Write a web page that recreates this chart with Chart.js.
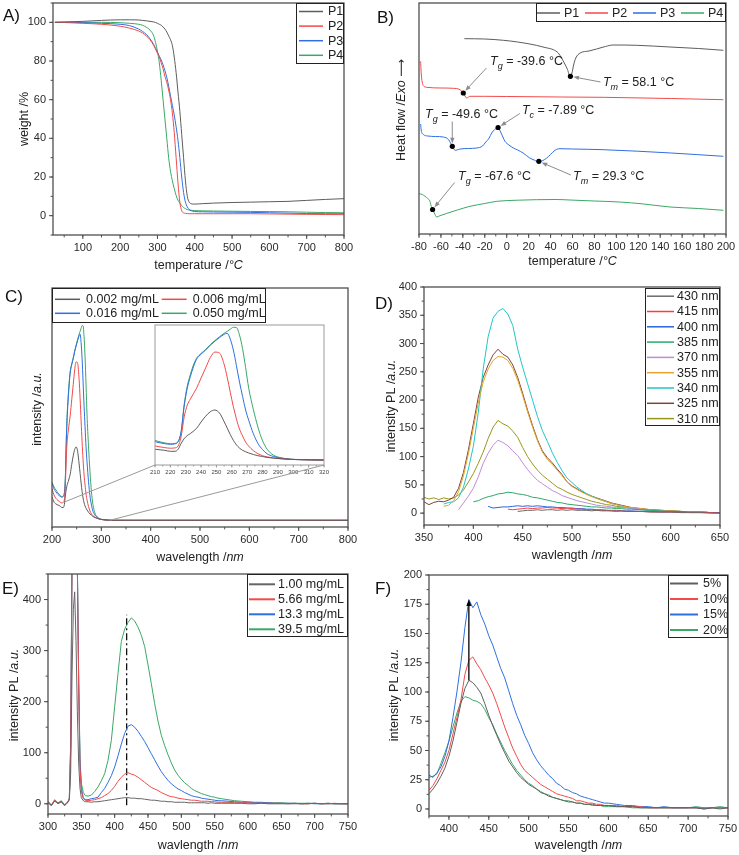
<!DOCTYPE html>
<html>
<head>
<meta charset="utf-8">
<script src="https://cdn.jsdelivr.net/npm/chart.js@4.4.0/dist/chart.umd.min.js"></script>
<style>
  body { margin: 0; background: #fff; }
  #wrap { position: relative; width: 739px; height: 855px; overflow: hidden; }
  canvas { position: absolute; }
</style>
</head>
<body>
<div id="wrap">
  <canvas id="tga" style="left:0;top:0" width="370" height="280"></canvas>
  <canvas id="dsc" style="left:370px;top:0" width="369" height="280"></canvas>
  <canvas id="uv" style="left:0;top:280px" width="370" height="290"></canvas>
  <canvas id="uvin" style="left:0;top:280px" width="370" height="290"></canvas>
  <canvas id="pl" style="left:370px;top:280px" width="369" height="290"></canvas>
  <canvas id="conc" style="left:0;top:560px" width="370" height="295"></canvas>
  <canvas id="pct" style="left:370px;top:560px" width="369" height="295"></canvas>
</div>
<script>
// ---- A) TGA ----
const tgaTemp = [25, 50, 100, 150, 200, 225, 250, 260, 270, 280, 290, 295, 300, 305, 310, 315, 320, 325, 330, 335, 340, 345, 350, 355, 360, 365, 370, 375, 380, 385, 390, 395, 400, 420, 450, 500, 550, 600, 650, 700, 750, 800];
const tgaP1 = [100, 100.2, 100.5, 101, 101.3, 101.3, 101.2, 101, 100.8, 100.5, 100.2, 99.9, 99.5, 99, 98.5, 97.6, 96.5, 95, 93, 91, 88, 82, 74, 64, 54, 42, 30, 18, 10, 7, 6.2, 6, 6, 6.2, 6.5, 6.8, 7, 7.2, 7.4, 7.9, 8.4, 8.8];
const tgaP2 = [100, 99.9, 99.5, 99, 98, 97, 95.5, 94.5, 93, 91, 88, 86, 84, 82, 79, 76, 72, 69, 65, 60, 53, 43, 30, 17, 7, 2.5, 1.5, 1.2, 1.1, 1, 1, 1, 1, 1, 1, 1, 1, 0.9, 0.8, 0.7, 0.6, 0.5];
const tgaP3 = [100, 100, 99.8, 99.5, 99, 98.3, 96.5, 95.3, 93.8, 91.5, 88.5, 86.5, 84.5, 82.5, 80.5, 78, 75, 71.5, 67, 62, 57, 52, 46, 39, 30, 20, 12, 7, 4.5, 3.2, 2.6, 2.3, 2.1, 2, 1.9, 1.8, 1.7, 1.5, 1.3, 1.1, 1, 1];
const tgaP4 = [100, 100, 100, 100, 99.8, 99.5, 99, 98.5, 97.5, 96, 93, 89.5, 85, 79, 70, 60, 50, 40, 30, 23, 18, 14, 10.5, 8, 6.5, 5.2, 4.2, 3.6, 3.1, 2.9, 2.8, 2.7, 2.6, 2.5, 2.4, 2.3, 2.2, 2.1, 2, 1.8, 1.6, 1.5];
const tgaTempTicks = [100, 200, 300, 400, 500, 600, 700, 800];
const tgaWeightTicks = [0, 20, 40, 60, 80, 100];

// ---- B) DSC (heat flow in arbitrary units) ----
const dscP1T = [-38.6, -20, -3, 10, 27, 35, 42.5, 47, 50, 53, 55.5, 57.7, 59.5, 61, 63, 67, 75, 82, 90, 97, 118.5, 149, 175, 197.6];
const dscP1H = [195.3, 195, 193.7, 192, 188.7, 186.5, 184.3, 181, 176, 170, 164.3, 157.7, 161, 169, 176, 181, 183, 185, 187.5, 189, 188.7, 187, 185.5, 183.7];
const dscP2T = [-78.5, -78.2, -77.5, -76, -73, -60, -48.7, -42.6, -39.6, -37.5, -36.5, -33.5, -20, 0, 50, 88, 150, 197.6];
const dscP2H = [172.7, 165, 155, 148.3, 146.7, 146, 145.7, 144.3, 141, 137, 136, 137.7, 137.7, 137.5, 137, 136.7, 135.5, 134.3];
const dscP3T = [-78.5, -78, -76, -72, -65, -57.8, -53, -49.6, -47, -44, -42.6, -35, -27.4, -22, -19.8, -16, -13.7, -11, -9, -7.9, -6, -3.5, -1.6, 2, 6, 10, 15, 21, 25, 27.3, 30, 33, 36.5, 40, 44, 46.5, 48.6, 60, 88, 150, 197.6];
const dscP3H = [110, 104, 99.5, 98, 97.5, 97, 94.3, 87.7, 83.7, 84.5, 85, 85.5, 86, 88, 91, 96, 101, 104.5, 106, 106.5, 103, 97, 92.7, 89, 86, 84, 81, 76, 74, 72.8, 72.7, 73.5, 76, 79.5, 83.7, 85, 85.3, 85, 84.3, 81, 77.7];
const dscP4T = [-80, -77, -74.5, -72, -70, -68.4, -66, -64, -61, -55, -45, -33.5, -20, -9, 10, 27, 45, 57.7, 80, 103, 125, 149, 175, 197.6];
const dscP4H = [40.3, 39.5, 37.7, 35.5, 32.7, 26, 21, 17, 18.3, 20.5, 24, 27.7, 30.5, 32.7, 33.8, 34.3, 34.5, 34, 33, 32, 30, 27, 25.5, 23.7];
const dscMarkT = [-39.6, 58.1, -49.6, -7.89, 29.3, -67.6];
const dscMarkH = [141, 157.7, 87.7, 106.5, 72.7, 24.5];
const dscMarkSub = ['g', 'm', 'g', 'c', 'm', 'g'];
const dscMarkText = [' = -39.6 °C', ' = 58.1 °C', ' = -49.6 °C', ' = -7.89 °C', ' = 29.3 °C', ' = -67.6 °C'];
const dscTempTicks = [-80, -60, -40, -20, 0, 20, 40, 60, 80, 100, 120, 140, 160, 180, 200];

// ---- C) UV-Vis ----
const uvNm = [200, 204, 208, 212, 216, 220, 223, 225, 227, 229, 231, 233, 235, 237, 240, 243, 246, 249, 252, 255, 257, 259, 261, 263, 265, 267, 269, 271, 274, 277, 280, 283, 287, 292, 298, 305, 312, 320, 350, 400, 500, 600, 700, 800];
const uv002 = [30, 25, 23, 22, 21, 19.5, 19.5, 22.3, 31, 38, 42.5, 45.5, 49, 53, 62.5, 71, 77.5, 80, 75.5, 63, 53.5, 44, 35.5, 29, 24.2, 21, 18.8, 17, 14.8, 13, 11.8, 10.5, 9.5, 8.5, 7.7, 7.2, 6.9, 6.7, 6.7, 6.7, 6.7, 6.7, 6.7, 6.7];
const uv006 = [38, 32, 28.5, 26.5, 25, 24, 24.5, 27.2, 41, 70, 87, 96, 104, 111.8, 127, 142, 157, 165, 163.5, 147, 128, 106, 85, 67, 52, 42, 33, 27, 20.5, 16, 13, 11.3, 9.8, 8.6, 7.7, 7.2, 6.9, 6.7, 6.7, 6.7, 6.7, 6.7, 6.7, 6.7];
const uv016 = [44, 38, 35, 32.5, 30.8, 29.8, 30.5, 33.6, 48, 86, 112, 129, 143, 154.4, 162, 168, 175, 181, 186.3, 191, 192.5, 184, 168, 145, 121, 100, 80, 65, 45.5, 31, 22, 15.8, 12, 9.5, 7.7, 7.2, 6.9, 6.7, 6.7, 6.7, 6.7, 6.7, 6.7, 6.7];
const uv050 = [45, 40, 37, 34, 32, 30.5, 31, 33.6, 48, 88, 115, 132, 146, 155.8, 163, 169, 176, 182, 187.5, 192.5, 195.5, 198.5, 201.3, 201, 190, 170, 142, 112, 81, 55, 35, 22.5, 14, 10, 8, 7.4, 7, 6.7, 6.7, 6.7, 6.7, 6.7, 6.7, 6.7];
const uvNmTicks = [200, 300, 400, 500, 600, 700, 800];
const uvInsetTicks = [210, 220, 230, 240, 250, 260, 270, 280, 290, 300, 310, 320];
const uvLinkNm = [225.7, 317];
const uvLinkAbs = [25, 6.7];

// ---- D) PL vs excitation wavelength ----
const plNm = [350, 355, 360, 365, 370, 375, 380, 385, 390, 395, 400, 405, 410, 415, 420, 425, 430, 435, 440, 445, 450, 455, 460, 465, 470, 475, 480, 485, 490, 495, 500, 505, 510, 515, 520, 525, 530, 535, 540, 545, 550, 555, 560, 570, 580, 590, 600, 610, 620, 630, 640, 650];
const pl430 = [null, null, null, null, null, null, null, null, null, null, null, null, null, null, null, null, null, null, null, 3, 4, 5, 5, 6, 5, 6, 6, 5, 6, 5, 6, 5, 5, 5, 4, 5, 4, 4, 4, 3, 4, 3, 3, 3, 2, 2, 2, 1, 1, 1, 0, 0];
const pl415 = [null, null, null, null, null, null, null, null, null, null, null, null, null, null, null, null, null, 7, 6, 7, 8, 9, 8, 9, 9, 10, 9, 9, 8, 9, 8, 7, 7, 6, 6, 5, 5, 5, 4, 4, 4, 3, 3, 3, 2, 2, 2, 1, 1, 1, 1, 0];
const pl400 = [null, null, null, null, null, null, null, null, null, null, null, null, null, 12, 9, 10, 11, 11, 12, 13, 12, 13, 12, 13, 12, 11, 11, 10, 10, 9, 9, 8, 8, 7, 7, 6, 6, 5, 5, 5, 4, 4, 4, 3, 3, 2, 2, 2, 1, 1, 1, 1];
const pl385 = [null, null, null, null, null, null, null, null, null, null, 20, 22, 26, 29, 31, 34, 35, 37, 36, 34, 33, 31, 28, 27, 25, 23, 21, 19, 18, 16, 15, 14, 13, 12, 11, 11, 10, 9, 9, 8, 8, 7, 7, 6, 5, 4, 3, 3, 2, 2, 1, 1];
const pl370 = [null, null, null, null, null, null, null, 6, 18, 30, 44, 64, 88, 106, 120, 129, 125, 119, 110, 102, 89, 77, 67, 58, 52, 46, 40, 36, 31, 28, 25, 22, 20, 18, 16, 14, 13, 12, 11, 10, 10, 9, 9, 7, 5, 4, 3, 3, 2, 2, 1, 1];
const pl355 = [null, null, null, null, 12, 14, 22, 38, 66, 105, 150, 195, 232, 255, 270, 277, 276, 270, 256, 235, 208, 179, 152, 128, 108, 95, 86, 76, 66, 55, 47, 42, 37, 33, 29, 26, 23, 20, 17, 15, 13, 11, 10, 8, 6, 5, 4, 3, 2, 2, 1, 1];
const pl340 = [null, null, null, null, 16, 19, 20, 27, 46, 78, 118, 178, 255, 312, 345, 357, 362, 352, 332, 290, 258, 229, 200, 171, 146, 127, 107, 90, 75, 62, 54, 46, 40, 34, 30, 26, 23, 20, 17, 15, 12, 10, 9, 6, 4, 4, 3, 3, 2, 2, 1, 1];
const pl325 = [20, 15, 19, 21, 20, 23, 28, 44, 72, 112, 158, 205, 240, 262, 280, 290, 281, 276, 262, 240, 212, 182, 155, 130, 110, 98, 89, 78, 68, 55, 48, 43, 38, 34, 30, 27, 24, 21, 18, 16, 14, 12, 10, 8, 6, 5, 4, 3, 2, 2, 1, 1];
const pl310 = [28, 25, 27, 24, 27, 25, 27, 32, 41, 55, 70, 88, 108, 132, 152, 164, 158, 154, 145, 134, 116, 100, 87, 76, 67, 60, 53, 46, 42, 37, 33, 30, 27, 24, 21, 19, 17, 15, 14, 12, 11, 10, 9, 7, 6, 5, 4, 3, 2, 2, 1, 1];
const plNmTicks = [350, 400, 450, 500, 550, 600, 650];
const plIntTicks = [0, 50, 100, 150, 200, 250, 300, 350, 400];

// ---- E) PL vs concentration ----
const eNm = [300, 305, 310, 315, 320, 325, 330, 332, 334, 336, 338, 340, 342, 344, 346, 348, 350, 353, 356, 360, 365, 370, 375, 380, 385, 390, 395, 400, 405, 410, 415, 420, 425, 430, 435, 440, 445, 450, 455, 460, 465, 470, 475, 480, 485, 490, 495, 500, 505, 510, 515, 520, 525, 530, 535, 540, 545, 550, 555, 560, 570, 580, 590, 600, 610, 620, 630, 640, 650, 660, 670, 680, 690, 700, 710, 720, 730, 740, 750];
const e100 = [2, -3, 5, 1, 4, -2, 3, 8, 60, 250, 380, 415, 320, 180, 80, 30, 12, 6, 4, 4, 3, 4, 4, 5, 6, 7, 8, 9, 10, 11, 12, 12, 11, 11, 10, 10, 9, 8, 7, 7, 6, 5, 5, 4, 4, 3, 3, 3, 3, 2, 2, 2, 2, 2, 2, 1, 2, 1, 1, 1, 1, 1, 1, 0, 0, 1, 0, 0, 0, 0, 0, 0, 0, 1, 0, 0, 0, 0, 0];
const e566 = [4, -2, 7, 1, 3, -4, 5, 10, 100, 470, 470, 470, 470, 470, 230, 70, 25, 10, 7, 6, 7, 8, 10, 12, 16, 20, 26, 34, 44, 52, 58, 61, 58, 56, 52, 47, 42, 37, 32, 29, 26, 22, 19, 16, 14, 13, 11, 10, 9, 8, 7, 7, 6, 5, 5, 5, 4, 4, 3, 3, 3, 2, 2, 2, 1, 1, 1, 1, 1, 0, 1, 0, 0, 1, 0, 0, 1, 0, 0];
const e133 = [3, -4, 6, 0, 5, -3, 3, 10, 110, 470, 470, 470, 470, 470, 240, 80, 30, 12, 8, 8, 10, 11, 13, 22, 30, 42, 55, 72, 94, 117, 138, 152, 155, 150, 142, 132, 122, 110, 98, 86, 74, 63, 54, 46, 39, 34, 29, 26, 22, 19, 16, 14, 13, 11, 10, 9, 8, 7, 6, 6, 5, 4, 3, 3, 2, 2, 2, 1, 1, 1, 1, 0, 1, 0, 0, 1, 0, 0, 0];
const e395 = [5, -3, 8, 2, 6, -2, 4, 10, 120, 470, 470, 470, 470, 470, 250, 90, 40, 22, 16, 15, 17, 24, 33, 45, 59, 85, 124, 190, 255, 318, 342, 355, 364, 358, 346, 330, 308, 272, 235, 196, 162, 134, 114, 96, 80, 66, 56, 48, 41, 36, 30, 26, 23, 20, 18, 16, 14, 13, 11, 10, 8, 6, 5, 4, 3, 3, 2, 2, 2, 1, 1, 1, 1, 1, 0, 1, 0, 0, 0];
const eGuideNm = [418, 418];
const eGuideInt = [-3, 370];
const eNmTicks = [300, 350, 400, 450, 500, 550, 600, 650, 700, 750];
const eIntTicks = [0, 100, 200, 300, 400];

// ---- F) PL vs percentage ----
const fNm = [375, 380, 385, 390, 395, 400, 405, 410, 415, 420, 425, 430, 435, 440, 445, 450, 455, 460, 465, 470, 475, 480, 485, 490, 495, 500, 505, 510, 515, 520, 525, 530, 535, 540, 545, 550, 555, 560, 565, 570, 575, 580, 585, 590, 595, 600, 610, 620, 630, 640, 650, 660, 670, 680, 690, 700, 710, 720, 730, 740, 750];
const f05 = [13, 17, 22, 28, 35, 45, 58, 74, 90, 103, 110, 108, 104, 99, 90, 80, 71, 63, 55, 48, 41, 36, 31, 27, 24, 21, 19, 17, 14, 13, 11, 10, 9, 8, 7, 6, 6, 5, 5, 4, 4, 4, 3, 3, 3, 3, 2, 2, 2, 1, 1, 1, 1, 1, 1, 1, 1, 0, 1, 0, 1];
const f10 = [16, 20, 26, 33, 40, 50, 64, 78, 93, 115, 127, 130, 124, 119, 112, 106, 99, 90, 80, 70, 61, 52, 45, 38, 33, 30, 27, 24, 21, 19, 17, 15, 13, 12, 11, 10, 9, 7, 7, 6, 5, 5, 4, 4, 3, 3, 3, 2, 2, 2, 1, 1, 1, 1, 1, 1, 1, 1, 1, 1, 1];
const f15 = [29, 27, 31, 36, 45, 58, 78, 100, 125, 155, 179, 172, 177, 166, 158, 148, 140, 130, 120, 112, 101, 90, 80, 72, 63, 56, 48, 42, 37, 33, 29, 26, 22, 20, 17, 16, 14, 13, 11, 10, 9, 8, 7, 6, 5, 5, 4, 3, 3, 2, 2, 1, 2, 1, 1, 1, 1, 0, 1, 1, 1];
const f20 = [27, 28, 30, 39, 48, 58, 70, 82, 92, 96, 95, 93, 92, 90, 85, 78, 72, 64, 57, 50, 44, 38, 33, 29, 25, 22, 20, 17, 15, 13, 12, 10, 9, 8, 7, 7, 6, 5, 5, 4, 4, 3, 3, 3, 2, 2, 2, 2, 1, 1, 1, 1, 1, 1, 1, 1, 2, 1, 1, 2, 1];
const fArrowNm = 425;
const fArrowInt = [110, 179];
const fNmTicks = [400, 450, 500, 550, 600, 650, 700, 750];
const fIntTicks = [0, 25, 50, 75, 100, 125, 150, 175, 200];

// ---- helpers ----
const FONT = '"Liberation Sans", "DejaVu Sans", Arial, sans-serif';
const GRAY = '#5c5c5c', RED = '#f24a4a', BLUE = '#2f6fe0', GREEN = '#3aa866';

function pts(xs, ys) {
  const out = [];
  xs.forEach((x, i) => { if (ys[i] !== null) out.push({x: x, y: ys[i]}); });
  return out;
}

function series(label, xs, ys, color, smooth) {
  return {
    label: label, data: pts(xs, ys), borderColor: color, backgroundColor: color,
    borderWidth: 1, pointRadius: 0, tension: 0,
    cubicInterpolationMode: smooth ? 'monotone' : 'default'
  };
}

function partFont(style, size) {
  const sz = style === 's' ? size * 0.72 : size;
  return (style === 'n' ? '' : 'italic ') + sz.toFixed(1) + 'px ' + FONT;
}

function drawParts(ctx, parts, x, y, size, align, rotate) {
  ctx.save();
  ctx.translate(x, y);
  if (rotate) ctx.rotate(-Math.PI / 2);
  let w = 0;
  parts.forEach(p => { ctx.font = partFont(p[1], size); w += ctx.measureText(p[0]).width; });
  let cx = align === 'center' ? -w / 2 : 0;
  ctx.textBaseline = 'middle';
  ctx.textAlign = 'left';
  ctx.fillStyle = '#222';
  parts.forEach(p => {
    ctx.font = partFont(p[1], size);
    ctx.fillText(p[0], cx, p[1] === 's' ? size * 0.32 : 0);
    cx += ctx.measureText(p[0]).width;
  });
  ctx.restore();
}

function arrow(ctx, x1, y1, x2, y2, color, width, head) {
  const ang = Math.atan2(y2 - y1, x2 - x1);
  ctx.save();
  ctx.strokeStyle = color; ctx.fillStyle = color; ctx.lineWidth = width;
  ctx.beginPath();
  ctx.moveTo(x1, y1);
  ctx.lineTo(x2 - Math.cos(ang) * head * 0.7, y2 - Math.sin(ang) * head * 0.7);
  ctx.stroke();
  ctx.beginPath();
  ctx.moveTo(x2, y2);
  ctx.lineTo(x2 - head * Math.cos(ang - 0.38), y2 - head * Math.sin(ang - 0.38));
  ctx.lineTo(x2 - head * Math.cos(ang + 0.38), y2 - head * Math.sin(ang + 0.38));
  ctx.closePath();
  ctx.fill();
  ctx.restore();
}

function drawFrame(chart, p) {
  const ctx = chart.ctx, a = chart.chartArea, sx = chart.scales.x, sy = chart.scales.y;
  ctx.save();
  ctx.strokeStyle = p.frameColor || '#4f4f4f';
  ctx.lineWidth = p.frameWidth || 1.3;
  ctx.strokeRect(a.left, a.top, a.right - a.left, a.bottom - a.top);
  ctx.lineWidth = 1;
  ctx.beginPath();
  const big = p.tickLen || 4, small = big * 0.6;
  if (p.x.labels) {
    p.x.labels.forEach(v => { const x = sx.getPixelForValue(v); ctx.moveTo(x, a.bottom); ctx.lineTo(x, a.bottom + big); });
    if (p.x.minor) for (let v = Math.ceil(p.x.min / p.x.minor) * p.x.minor; v <= p.x.max + 1e-9; v += p.x.minor) {
      const x = sx.getPixelForValue(v); ctx.moveTo(x, a.bottom); ctx.lineTo(x, a.bottom + small);
    }
  }
  if (p.y.labels) {
    p.y.labels.forEach(v => { const y = sy.getPixelForValue(v); ctx.moveTo(a.left, y); ctx.lineTo(a.left - big, y); });
    if (p.y.minor) for (let v = Math.ceil(p.y.min / p.y.minor) * p.y.minor; v <= p.y.max + 1e-9; v += p.y.minor) {
      const y = sy.getPixelForValue(v); ctx.moveTo(a.left, y); ctx.lineTo(a.left - small, y);
    }
  }
  ctx.stroke();
  ctx.restore();
}

function drawLegend(chart, L) {
  const ctx = chart.ctx;
  const items = chart.data.datasets.filter(d => d.label);
  ctx.save();
  ctx.fillStyle = '#fff';
  ctx.fillRect(L.box[0], L.box[1], L.box[2] - L.box[0], L.box[3] - L.box[1]);
  ctx.strokeStyle = '#222'; ctx.lineWidth = 1;
  ctx.strokeRect(L.box[0] + 0.5, L.box[1] + 0.5, L.box[2] - L.box[0] - 1, L.box[3] - L.box[1] - 1);
  ctx.font = L.size + 'px ' + FONT;
  ctx.textBaseline = 'middle';
  ctx.fillStyle = '#222';
  const cols = L.cols || 1;
  items.forEach((d, i) => {
    const x = L.x0 + (i % cols) * (L.colW || 0);
    const y = L.y0 + Math.floor(i / cols) * (L.rowH || 0);
    ctx.strokeStyle = d.borderColor; ctx.lineWidth = L.lw;
    ctx.beginPath(); ctx.moveTo(x, y); ctx.lineTo(x + L.len, y); ctx.stroke();
    ctx.fillText(d.label, x + L.textOff, y + 0.5);
  });
  ctx.restore();
}

function decor(p) {
  return {
    id: 'decor',
    beforeDraw(chart) {
      if (!p.bg) return;
      const a = chart.chartArea, ctx = chart.ctx;
      ctx.save(); ctx.fillStyle = '#fff';
      ctx.fillRect(a.left, a.top, a.right - a.left, a.bottom - a.top);
      ctx.restore();
    },
    afterDraw(chart) {
      const ctx = chart.ctx, a = chart.chartArea;
      if (p.extraUnder) p.extraUnder(chart);
      drawFrame(chart, p);
      if (p.xTitle) drawParts(ctx, p.xTitle, (a.left + a.right) / 2, p.xTitleY, 12.5, 'center', false);
      if (p.yTitle) drawParts(ctx, p.yTitle, p.yTitleX, p.yTitleCY || (a.top + a.bottom) / 2, 12.5, 'center', true);
      if (p.legend) drawLegend(chart, p.legend);
      if (p.extra) p.extra(chart);
      if (p.tag) {
        ctx.save(); ctx.font = '17px ' + FONT; ctx.fillStyle = '#111'; ctx.textBaseline = 'alphabetic';
        ctx.fillText(p.tag[0], p.tag[1], p.tag[2]); ctx.restore();
      }
    }
  };
}

function axis(ax, fit, size, pad) {
  return {
    type: 'linear', min: ax.min, max: ax.max,
    grid: {display: false, drawTicks: false}, border: {display: false},
    afterFit: fit,
    afterBuildTicks: s => { s.ticks = (ax.labels || []).map(v => ({value: v})); },
    ticks: {display: !!ax.labels, padding: pad, color: ax.color || '#2a2a2a', font: {family: FONT, size: size}, autoSkip: false, maxRotation: 0, minRotation: 0}
  };
}

function makeChart(id, datasets, p) {
  const cv = document.getElementById(id);
  const W = cv.width, H = cv.height, a = p.area;
  const fs = p.tickFont || 11;
  return new Chart(cv, {
    type: 'line',
    data: {datasets: datasets},
    options: {
      responsive: false, animation: false, devicePixelRatio: 1, events: [],
      layout: {padding: {left: p.y.hidden ? a[0] : 0, top: a[1], right: W - a[2], bottom: 0}},
      plugins: {legend: {display: false}, tooltip: {enabled: false}},
      scales: {
        x: axis(p.x, s => { s.height = H - a[3]; s.paddingLeft = 0; s.paddingRight = 0; }, fs, p.xPad || 6.5),
        y: Object.assign(axis(p.y, s => { s.width = p.y.hidden ? 0 : a[0]; s.paddingTop = 0; s.paddingBottom = 0; }, fs, 7), {display: !p.y.hidden})
      }
    },
    plugins: [decor(p)]
  });
}

// ---- A) ----
makeChart('tga', [
  series('P1', tgaTemp, tgaP1, GRAY, true),
  series('P2', tgaTemp, tgaP2, RED, true),
  series('P3', tgaTemp, tgaP3, BLUE, true),
  series('P4', tgaTemp, tgaP4, GREEN, true)
], {
  area: [53, 3, 344, 235],
  x: {min: 20, max: 800, labels: tgaTempTicks, minor: 50},
  y: {min: -10, max: 110, labels: tgaWeightTicks, minor: 10},
  xTitle: [['temperature /', 'n'], ['°C', 'i']], xTitleY: 266,
  yTitle: [['weight /%', 'n']], yTitleX: 25,
  legend: {box: [296, 3, 344, 64], x0: 299, y0: 11.5, rowH: 14.6, len: 24, textOff: 29, size: 12.5, lw: 1.5},
  tag: ['A)', 3, 21]
});

// ---- B) ----
const dscLayout = [
  {text: [-15.2, 172], from: [-18.5, 166]},
  {text: [87.8, 151], from: [85.5, 152]},
  {text: [-74.5, 119], from: [-49.7, 112.5]},
  {text: [13.9, 123], from: [12, 120.5]},
  {text: [60.5, 57], from: [58.5, 59]},
  {text: [-44.4, 57], from: [-47.5, 51.5]}
];
makeChart('dsc', [
  series('P1', dscP1T, dscP1H, GRAY, true),
  series('P2', dscP2T, dscP2H, RED, true),
  series('P3', dscP3T, dscP3H, BLUE, true),
  series('P4', dscP4T, dscP4H, GREEN, true)
], {
  area: [49, 3, 356, 234],
  x: {min: -80, max: 200, labels: dscTempTicks, minor: 10},
  y: {min: 0, max: 231},
  xTitle: [['temperature /', 'n'], ['°C', 'i']], xTitleY: 262,
  yTitle: [['Heat flow /', 'n'], ['Exo', 'i'], [' \u27F6', 'n']], yTitleX: 32, yTitleCY: 110,
  legend: {box: [166, 3, 356, 22], cols: 4, colW: 48, x0: 167, y0: 13, len: 23, textOff: 27, size: 12.5, lw: 1.5},
  tag: ['B)', 7, 23],
  extra: chart => {
    const ctx = chart.ctx, sx = chart.scales.x, sy = chart.scales.y;
    dscMarkT.forEach((t, i) => {
      const mx = sx.getPixelForValue(t), my = sy.getPixelForValue(dscMarkH[i]);
      const L = dscLayout[i];
      const fx = sx.getPixelForValue(L.from[0]), fy = sy.getPixelForValue(L.from[1]);
      const ang = Math.atan2(my - fy, mx - fx);
      arrow(ctx, fx, fy, mx - Math.cos(ang) * 3, my - Math.sin(ang) * 3, '#8c8c8c', 1, 6);
      ctx.save(); ctx.fillStyle = '#000';
      ctx.beginPath(); ctx.arc(mx, my, 2.6, 0, Math.PI * 2); ctx.fill(); ctx.restore();
      drawParts(ctx, [['T', 'i'], [dscMarkSub[i], 's'], [dscMarkText[i], 'n']],
        sx.getPixelForValue(L.text[0]), sy.getPixelForValue(L.text[1]), 12.5, 'left', false);
    });
  }
});

// ---- C) ----
const uvSets = () => [
  series('0.002 mg/mL', uvNm, uv002, GRAY, true),
  series('0.006 mg/mL', uvNm, uv006, RED, true),
  series('0.016 mg/mL', uvNm, uv016, BLUE, true),
  series('0.050 mg/mL', uvNm, uv050, GREEN, true)
];
const uvChart = makeChart('uv', uvSets(), {
  area: [52, 8, 348, 247],
  x: {min: 200, max: 800, labels: uvNmTicks, minor: 50},
  y: {min: 0, max: 238.7},
  xTitle: [['wavelength /', 'n'], ['nm', 'i']], xTitleY: 278,
  yTitle: [['intensity /', 'n'], ['a.u.', 'i']], yTitleX: 38, yTitleCY: 129,
  legend: {box: [52, 8, 266, 43], cols: 2, colW: 106.7, x0: 55, y0: 19.3, rowH: 14, len: 25, textOff: 31, size: 12.5, lw: 1.5},
  tag: ['C)', 5, 22]
});
makeChart('uvin', uvSets(), {
  area: [155, 45, 324, 185], bg: true,
  x: {min: 210, max: 320, labels: uvInsetTicks, minor: 5, color: '#444'},
  y: {min: -0.6, max: 204.7, hidden: true},
  tickFont: 6, xPad: 3.5, tickLen: 2.5, frameColor: '#9a9a9a', frameWidth: 1,
  extraUnder: chart => {
    const ctx = chart.ctx, a = chart.chartArea, mx = uvChart.scales.x, my = uvChart.scales.y;
    ctx.save(); ctx.strokeStyle = '#9a9a9a'; ctx.lineWidth = 1;
    ctx.beginPath();
    ctx.moveTo(a.left, a.bottom); ctx.lineTo(mx.getPixelForValue(uvLinkNm[0]), my.getPixelForValue(uvLinkAbs[0]));
    ctx.moveTo(a.right, a.bottom); ctx.lineTo(mx.getPixelForValue(uvLinkNm[1]), my.getPixelForValue(uvLinkAbs[1]));
    ctx.stroke(); ctx.restore();
  }
});

// ---- D) ----
makeChart('pl', [
  series('430 nm', plNm, pl430, '#6a6a6a'),
  series('415 nm', plNm, pl415, '#ff3c3c'),
  series('400 nm', plNm, pl400, '#2b63e0'),
  series('385 nm', plNm, pl385, '#2ea86c'),
  series('370 nm', plNm, pl370, '#c08cd8'),
  series('355 nm', plNm, pl355, '#e6a52a'),
  series('340 nm', plNm, pl340, '#22c5c5'),
  series('325 nm', plNm, pl325, '#7d4538'),
  series('310 nm', plNm, pl310, '#9a961c')
], {
  area: [54, 7, 350, 245],
  x: {min: 350, max: 650, labels: plNmTicks, minor: 25},
  y: {min: -21, max: 400, labels: plIntTicks, minor: 25},
  xTitle: [['wavlength /', 'n'], ['nm', 'i']], xTitleY: 276,
  yTitle: [['intensity PL /', 'n'], ['a.u.', 'i']], yTitleX: 22, yTitleCY: 126,
  legend: {box: [275, 8, 350, 146], x0: 277, y0: 16.2, rowH: 15.3, len: 27, textOff: 30, size: 12.5, lw: 1.5},
  tag: ['D)', 5, 29]
});

// ---- E) ----
const eGuide = series('', eGuideNm, eGuideInt, '#000');
eGuide.borderDash = [7, 3, 2, 3];
eGuide.borderWidth = 1.2;
makeChart('conc', [
  series('1.00 mg/mL', eNm, e100, '#666666'),
  series('5.66 mg/mL', eNm, e566, RED),
  series('13.3 mg/mL', eNm, e133, BLUE),
  series('39.5 mg/mL', eNm, e395, GREEN),
  eGuide
], {
  area: [48, 14, 348, 254],
  x: {min: 300, max: 750, labels: eNmTicks, minor: 25},
  y: {min: -20, max: 450, labels: eIntTicks, minor: 50},
  xTitle: [['wavlength /', 'n'], ['nm', 'i']], xTitleY: 286,
  yTitle: [['intensity PL /', 'n'], ['a.u.', 'i']], yTitleX: 15, yTitleCY: 135,
  legend: {box: [247, 14, 348, 77], x0: 249, y0: 24.3, rowH: 15, len: 26, textOff: 29, size: 12.5, lw: 2},
  tag: ['E)', 2, 34]
});

// ---- F) ----
makeChart('pct', [
  series('5%', fNm, f05, '#5f5f5f'),
  series('10%', fNm, f10, RED),
  series('15%', fNm, f15, BLUE),
  series('20%', fNm, f20, GREEN)
], {
  area: [59, 15, 358, 256],
  x: {min: 375, max: 750, labels: fNmTicks, minor: 25},
  y: {min: -6, max: 200, labels: fIntTicks, minor: 12.5},
  xTitle: [['wavelength /', 'n'], ['nm', 'i']], xTitleY: 286,
  yTitle: [['intensity PL /', 'n'], ['a.u.', 'i']], yTitleX: 25, yTitleCY: 135,
  legend: {box: [298, 15, 358, 78], x0: 300, y0: 23.5, rowH: 15.5, len: 28, textOff: 33, size: 12.5, lw: 2},
  tag: ['F)', 5, 34],
  extra: chart => {
    const sx = chart.scales.x, sy = chart.scales.y;
    const x = sx.getPixelForValue(fArrowNm);
    arrow(chart.ctx, x, sy.getPixelForValue(fArrowInt[0]), x, sy.getPixelForValue(fArrowInt[1]), '#000', 1.3, 7);
  }
});
</script>
</body>
</html>
